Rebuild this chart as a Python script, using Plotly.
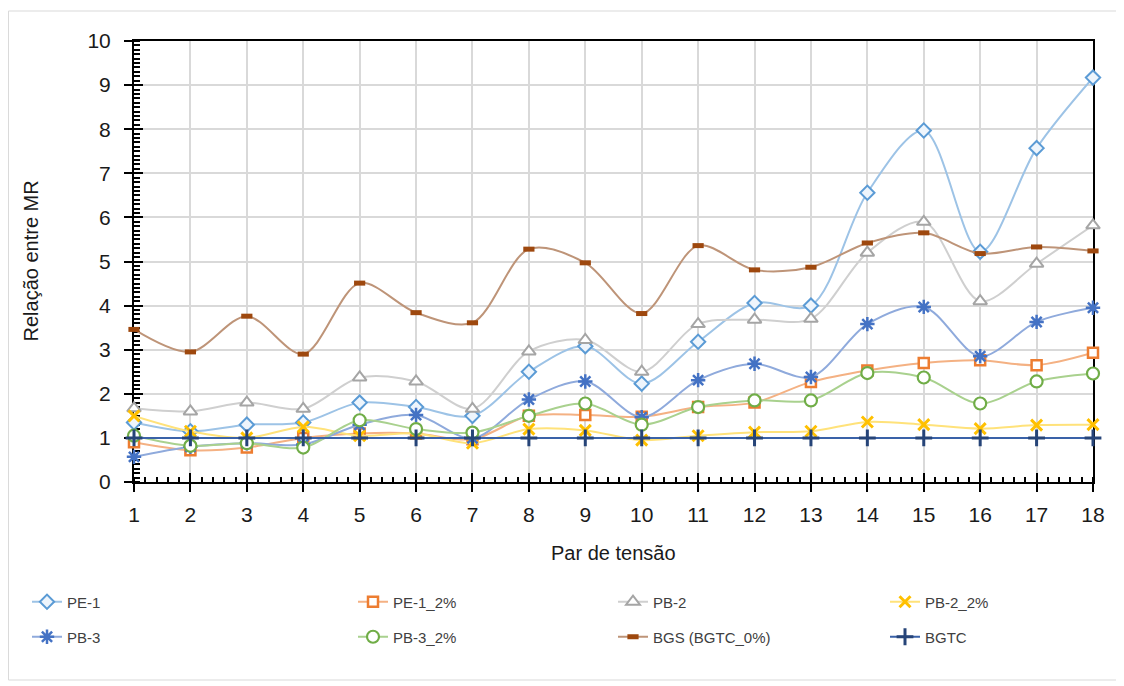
import plotly.graph_objects as go

# ---- data ----
par_tensao = list(range(1, 19))
pe1 = [1.35, 1.15, 1.3, 1.35, 1.8, 1.7, 1.5, 2.5, 3.08, 2.23, 3.18, 4.06, 4.0, 6.56, 7.97, 5.22, 7.57, 9.17]
pe1_2 = [0.9, 0.72, 0.78, 1.0, 1.1, 1.1, 0.97, 1.5, 1.52, 1.48, 1.7, 1.8, 2.27, 2.53, 2.7, 2.76, 2.65, 2.93]
pb2 = [1.67, 1.6, 1.8, 1.66, 2.37, 2.28, 1.66, 2.96, 3.22, 2.5, 3.58, 3.68, 3.7, 5.2, 5.9, 4.1, 4.95, 5.82]
pb2_2 = [1.5, 1.15, 1.0, 1.25, 1.05, 1.1, 0.88, 1.2, 1.17, 0.95, 1.05, 1.13, 1.15, 1.36, 1.3, 1.21, 1.29, 1.3]
pb3 = [0.57, 0.8, 0.88, 0.85, 1.3, 1.52, 0.99, 1.87, 2.28, 1.47, 2.31, 2.68, 2.38, 3.58, 3.97, 2.85, 3.63, 3.95]
pb3_2 = [1.05, 0.82, 0.88, 0.78, 1.4, 1.2, 1.12, 1.5, 1.78, 1.3, 1.7, 1.85, 1.85, 2.47, 2.37, 1.78, 2.28, 2.46]
bgs = [3.46, 2.95, 3.76, 2.9, 4.51, 3.84, 3.61, 5.28, 4.97, 3.82, 5.36, 4.81, 4.87, 5.42, 5.65, 5.18, 5.33, 5.24]
bgtc = [1.0, 1.0, 1.0, 1.0, 1.0, 1.0, 1.0, 1.0, 1.0, 1.0, 1.0, 1.0, 1.0, 1.0, 1.0, 1.0, 1.0, 1.0]

names = ["PE-1", "PE-1_2%", "PB-2", "PB-2_2%", "PB-3", "PB-3_2%", "BGS (BGTC_0%)", "BGTC"]
y_tick_vals = list(range(0, 11))
x_title = "Par de tensão"
y_title = "Relação entre MR"

FONT = "Liberation Sans, Arial, sans-serif"
OFF = 8                      # page body margin
W, H = 1116, 678
L, R, T, B = 126, 31, 33, 204
pw, ph = W - L - R, H - T - B

series = [
    (pe1,   "#9DC3E6", dict(symbol="diamond", size=11, color="#EEF5FC", line=dict(color="#5B9BD5", width=2))),
    (pe1_2, "#F4B183", dict(symbol="square", size=10, color="#FFFFFF", line=dict(color="#ED7D31", width=2.5))),
    (pb2,   "#CFCFCF", dict(symbol="triangle-up", size=12, color="#FFFFFF", line=dict(color="#A5A5A5", width=2))),
    (pb2_2, "#FFE27A", dict(symbol="x-thin", size=11, color="#FFC000", line=dict(color="#FFC000", width=3))),
    (pb3,   "#8FAADC", dict(symbol="asterisk", size=12, color="#4472C4", line=dict(color="#4472C4", width=2.5))),
    (pb3_2, "#A9D18E", dict(symbol="circle", size=12, color="#FFFFFF", line=dict(color="#70AD47", width=2.2))),
    (bgs,   "#BE9478", dict(symbol="line-ew", size=8, color="#9E480E", line=dict(color="#9E480E", width=5))),
    (bgtc,  "#3A62A8", dict(symbol="cross-thin", size=12, color="#264478", line=dict(color="#264478", width=3))),
]

# legend columns (text x in screen px) and rows (y center in screen px)
col_x = [67, 393, 653, 925]
row_y = [602, 637]

fig = go.Figure()
layout_legends = {}
for i, (vals, lc, mk) in enumerate(series):
    key = "legend" if i == 0 else f"legend{i+1}"
    fig.add_trace(go.Scatter(
        x=par_tensao, y=vals, name=names[i], mode="lines+markers",
        line=dict(color=lc, width=2, shape="spline", smoothing=0.9),
        marker=mk, cliponaxis=False, legend=key,
    ))
    col, row = i % 4, i // 4
    layout_legends[key] = dict(
        xref="container", yref="container",
        x=(col_x[col] - OFF - 40) / W, y=1 - (row_y[row] - OFF) / H,
        xanchor="left", yanchor="middle",
        font=dict(family=FONT, size=15, color="#404040"),
        bgcolor="rgba(0,0,0,0)", itemwidth=30,
    )

# invisible helper trace for inside (crossing) major ticks
fig.add_trace(go.Scatter(x=par_tensao, y=bgtc, xaxis="x2", yaxis="y2", mode="markers",
                         marker=dict(opacity=0), showlegend=False, hoverinfo="skip"))

axis_font = dict(family=FONT, size=20, color="#1a1a1a")
tick_font = dict(family=FONT, size=21, color="#1a1a1a")
fig.update_layout(
    width=W, height=H,
    margin=dict(l=L, r=R, t=T, b=B, autoexpand=False),
    paper_bgcolor="white", plot_bgcolor="white",
    font=dict(family=FONT),
    showlegend=True,
    xaxis=dict(
        range=[1, 18], tickmode="linear", tick0=1, dtick=1,
        showgrid=True, gridcolor="#D9D9D9", gridwidth=1.5,
        showline=True, linecolor="black", linewidth=2, mirror=True,
        ticks="outside", ticklen=8, tickwidth=2, tickcolor="black",
        minor=dict(ticks="inside", ticklen=5, tickwidth=1.5, tickcolor="black", dtick=0.2, showgrid=False),
        tickfont=tick_font, ticklabelstandoff=5,
        zeroline=False, layer="below traces",
    ),
    yaxis=dict(
        range=[0, 10], tickmode="array", tickvals=y_tick_vals,
        showgrid=True, gridcolor="#D9D9D9", gridwidth=1.5,
        showline=True, linecolor="black", linewidth=2, mirror=True,
        ticks="outside", ticklen=8, tickwidth=2, tickcolor="black",
        minor=dict(ticks="inside", ticklen=6, tickwidth=1.5, tickcolor="black", dtick=0.1, showgrid=False),
        tickfont=tick_font, ticklabelstandoff=9,
        zeroline=False, layer="below traces",
    ),
    xaxis2=dict(range=[1, 18], overlaying="x", anchor="y2", side="bottom", tickmode="linear", tick0=1, dtick=1,
                ticks="inside", ticklen=9, tickwidth=2, tickcolor="black", showticklabels=False,
                showgrid=False, zeroline=False, showline=False, layer="below traces"),
    yaxis2=dict(range=[0, 10], overlaying="y", anchor="x2", side="left", tickmode="linear", tick0=0, dtick=1,
                ticks="inside", ticklen=9, tickwidth=2, tickcolor="black", showticklabels=False,
                showgrid=False, zeroline=False, showline=False, layer="below traces"),
    **layout_legends,
)

# axis titles
fig.add_annotation(text=x_title, xref="paper", yref="paper", x=0.5,
                   y=(H - B - (553 - OFF)) / ph, xanchor="center", yanchor="middle",
                   showarrow=False, font=axis_font)
fig.add_annotation(text=y_title, xref="paper", yref="paper", x=(30 - OFF - L) / pw,
                   y=0.5, xanchor="center", yanchor="middle", textangle=-90,
                   showarrow=False, font=axis_font)

# outer chart frame
fig.add_shape(type="rect", xref="paper", yref="paper",
              x0=(8 - OFF - L) / pw + 0.0005, x1=(1118 - OFF - L) / pw,
              y0=(H - B - (680 - OFF)) / ph, y1=(H - B - (11 - OFF)) / ph,
              line=dict(color="#D9D9D9", width=1), fillcolor="rgba(0,0,0,0)", layer="below")

fig.write_html("out.html")
